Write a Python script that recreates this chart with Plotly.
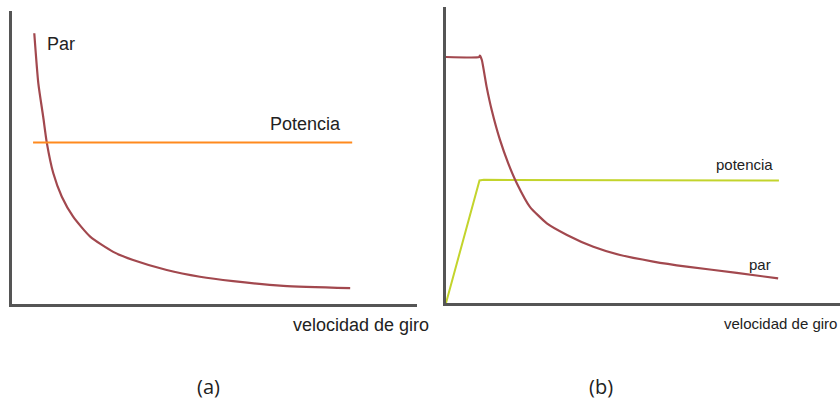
import plotly.graph_objects as go

# ---------------- data (arbitrary units) ----------------
# Panel (a)
a_speed = [5.5, 6.5, 7.7, 8.6, 10.2, 12.3, 15.1, 19.3, 25.0, 29.9, 38.2, 46.4, 54.6, 67.0, 83.5]
a_par = [92.4, 75.3, 63.9, 55.0, 44.6, 36.6, 29.8, 23.0, 17.8, 15.0, 11.6, 9.3, 7.8, 6.2, 5.4]
a_pot_speed = [5.2, 84.0]
a_pot = [55.1, 55.1]

# Panel (b)
b_speed = [0.0, 8.4, 8.6, 9.1, 10.3, 11.6, 13.7, 15.8, 18.0, 21.3, 25.6, 30.7, 37.4, 44.2, 52.6, 61.1, 73.8, 84.3]
b_par = [83.1, 83.1, 83.6, 82.1, 73.1, 65.2, 55.1, 47.2, 40.4, 32.5, 26.9, 23.0, 19.0, 16.2, 14.0, 12.3, 10.2, 8.3]
b_pot_speed = [0.0, 8.5, 9.6, 84.5]
b_pot = [0.0, 41.4, 41.6, 41.4]

labels_a = ["Par", "Potencia", "velocidad de giro", "(a)"]
labels_b = ["potencia", "par", "velocidad de giro", "(b)"]

# ---------------- figure ----------------
W, H = 840, 402
PAR_COLOR = "#A2484E"
ORANGE = "#FF8A1E"
GREEN = "#C3D42C"
AXIS_COLOR = "#555555"
TXT = "#222222"

fig = go.Figure()
fig.add_trace(go.Scatter(x=a_speed, y=a_par, mode="lines",
                         line=dict(color=PAR_COLOR, width=2.2, shape="spline", smoothing=0.6),
                         xaxis="x", yaxis="y", showlegend=False, hoverinfo="skip"))
fig.add_trace(go.Scatter(x=a_pot_speed, y=a_pot, mode="lines", line=dict(color=ORANGE, width=2),
                         xaxis="x", yaxis="y", showlegend=False, hoverinfo="skip"))
fig.add_trace(go.Scatter(x=b_pot_speed, y=b_pot, mode="lines", line=dict(color=GREEN, width=2),
                         xaxis="x2", yaxis="y2", showlegend=False, hoverinfo="skip"))
fig.add_trace(go.Scatter(x=b_speed, y=b_par, mode="lines",
                         line=dict(color=PAR_COLOR, width=2.2, shape="spline", smoothing=0.5),
                         xaxis="x2", yaxis="y2", showlegend=False, hoverinfo="skip"))


def px(x):
    return x / W


def py(y):
    return 1 - y / H


ax_common = dict(showgrid=False, zeroline=False, showticklabels=False, ticks="",
                 showline=True, linecolor=AXIS_COLOR, linewidth=3, fixedrange=True)

fig.update_layout(
    width=W, height=H,
    margin=dict(l=0, r=0, t=0, b=0),
    paper_bgcolor="white", plot_bgcolor="white",
    xaxis=dict(domain=[px(12), px(417)], range=[0, 100], anchor="y", **ax_common),
    yaxis=dict(domain=[py(304), py(11)], range=[0, 100], anchor="x", **ax_common),
    xaxis2=dict(domain=[px(446), 1.0], range=[0, 100], anchor="y2", **ax_common),
    yaxis2=dict(domain=[py(303), py(7)], range=[0, 100], anchor="x2", **ax_common),
)

chart_font = "Liberation Sans, Arial, sans-serif"
ann = []
# panel (a) labels
ann.append(dict(text=labels_a[0], x=px(45), y=py(44), xanchor="left", yanchor="middle",
                font=dict(family=chart_font, size=18, color=TXT)))
ann.append(dict(text=labels_a[1], x=px(268), y=py(124), xanchor="left", yanchor="middle",
                font=dict(family=chart_font, size=18, color=TXT)))
ann.append(dict(text=labels_a[2], x=px(291), y=py(325), xanchor="left", yanchor="middle",
                font=dict(family=chart_font, size=18, color=TXT)))
ann.append(dict(text=labels_a[3], x=px(208), y=py(386), xanchor="center", yanchor="middle",
                font=dict(family="Open Sans, sans-serif", size=20, color="#222222")))
# panel (b) labels
ann.append(dict(text=labels_b[0], x=px(714), y=py(165), xanchor="left", yanchor="middle",
                font=dict(family=chart_font, size=15, color=TXT)))
ann.append(dict(text=labels_b[1], x=px(747), y=py(264), xanchor="left", yanchor="middle",
                font=dict(family=chart_font, size=15, color=TXT)))
ann.append(dict(text=labels_b[2], x=px(722), y=py(323), xanchor="left", yanchor="middle",
                font=dict(family=chart_font, size=15, color=TXT)))
ann.append(dict(text=labels_b[3], x=px(601), y=py(386), xanchor="center", yanchor="middle",
                font=dict(family="Open Sans, sans-serif", size=20, color="#222222")))

for a in ann:
    a.update(xref="paper", yref="paper", showarrow=False)
fig.update_layout(annotations=ann)

fig.write_html("out.html", config={"displayModeBar": False},
               post_script="document.body.style.margin='0';document.body.style.overflow='hidden';")
